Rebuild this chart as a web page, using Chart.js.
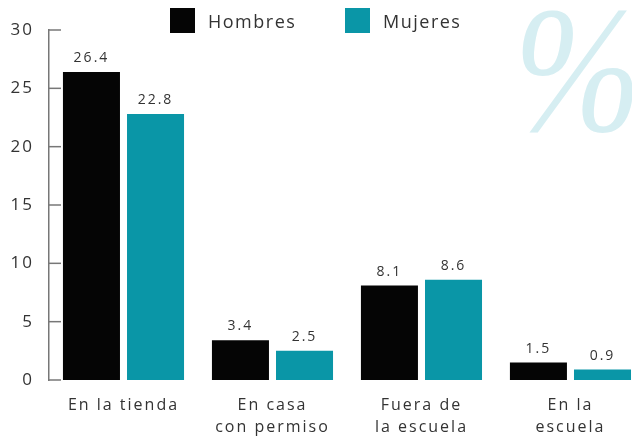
<!DOCTYPE html>
<html>
<head>
<meta charset="utf-8">
<script src="https://cdn.jsdelivr.net/npm/chart.js@4.4.1/dist/chart.umd.min.js"></script>
<style>
html,body{margin:0;padding:0;background:#fff;overflow:hidden}
#wrap{position:relative;width:632px;height:440px}
#wrap canvas{position:relative;z-index:1}
.pct{position:absolute;left:514px;top:-19px;font:italic 180px "Liberation Serif",serif;color:#d6eef2;line-height:1;transform:scaleX(0.85);transform-origin:0 0}
.leg{position:absolute;top:8px;height:25px;font:18px "Open Sans",sans-serif;letter-spacing:1.5px;color:#333;display:flex;align-items:center;z-index:2}
.leg i{display:inline-block;width:25px;height:25px;margin-right:13px}
</style>
</head>
<body>
<div id="wrap">
  <div class="pct">%</div>
  <canvas id="myChart"></canvas>
  <div class="leg" style="left:170px"><i style="background:#050505"></i>Hombres</div>
  <div class="leg" style="left:345px"><i style="background:#0a96a7"></i>Mujeres</div>
</div>
<script>
// chart data
const categories = [['En la tienda'], ['En casa', 'con permiso'], ['Fuera de', 'la escuela'], ['En la', 'escuela']];
const seriesNames = ['Hombres', 'Mujeres'];
const hombres = [26.4, 3.4, 8.1, 1.5];
const mujeres = [22.8, 2.5, 8.6, 0.9];
const yTicks = [0, 5, 10, 15, 20, 25, 30];

const txt = '#333';
const axisCol = '#777';
const font = '"Open Sans", sans-serif';

// short inward tick marks on the y axis
const tickMarks = {
  id: 'tickMarks',
  afterDraw(chart) {
    const {ctx, chartArea, scales: {y}} = chart;
    ctx.save();
    ctx.strokeStyle = axisCol;
    ctx.lineWidth = 1.5;
    yTicks.forEach(v => {
      const py = y.getPixelForValue(v);
      ctx.beginPath();
      ctx.moveTo(chartArea.left, py);
      ctx.lineTo(chartArea.left + 12, py);
      ctx.stroke();
    });
    ctx.restore();
  }
};

// value labels above bars
const valueLabels = {
  id: 'valueLabels',
  afterDatasetsDraw(chart) {
    const ctx = chart.ctx;
    ctx.save();
    ctx.font = '14px ' + font;
    ctx.fillStyle = txt;
    ctx.textAlign = 'center';
    ctx.textBaseline = 'alphabetic';
    chart.data.datasets.forEach((ds, i) => {
      chart.getDatasetMeta(i).data.forEach((bar, j) => {
        ctx.fillText(ds.data[j].y.toFixed(1), bar.x, bar.y - 10);
      });
    });
    ctx.restore();
  }
};

// tracked lettering like the printed chart
const spacing = {
  id: 'spacing',
  beforeDraw(chart) { chart.ctx.letterSpacing = '2px'; }
};

const ctx = document.getElementById('myChart');

new Chart(ctx, {
  type: 'bar',
  data: {
    datasets: [{
      label: seriesNames[0],
      data: hombres.map((v, i) => ({x: i, y: v})),
      backgroundColor: '#050505'
    }, {
      label: seriesNames[1],
      data: mujeres.map((v, i) => ({x: i, y: v})),
      backgroundColor: '#0a96a7'
    }]
  },
  options: {
    responsive: true,
    maintainAspectRatio: false,
    animation: false,
    categoryPercentage: 0.86,
    barPercentage: 0.89,
    layout: {padding: {top: 30, right: 0, bottom: 0, left: 0}},
    plugins: {legend: {display: false}, tooltip: {enabled: false}},
    scales: {
      x: {
        type: 'linear',
        offset: false,
        min: -0.5,
        max: 3.413,
        afterFit: s => { s.height = 60; },
        grid: {display: false, drawTicks: false, offset: false},
        border: {display: false},
        ticks: {
          stepSize: 1,
          includeBounds: false,
          maxRotation: 0,
          autoSkip: false,
          padding: 14,
          color: txt,
          font: {family: font, size: 16, lineHeight: 1.375},
          callback: v => categories[v] || ''
        }
      },
      y: {
        min: 0,
        max: 30,
        afterFit: s => { s.width = 49; },
        grid: {display: false, drawTicks: false},
        border: {display: true, color: axisCol, width: 1.5},
        ticks: {
          stepSize: 5,
          padding: 15,
          color: txt,
          font: {family: font, size: 17}
        }
      }
    }
  },
  plugins: [spacing, tickMarks, valueLabels]
});
</script>
</body>
</html>
